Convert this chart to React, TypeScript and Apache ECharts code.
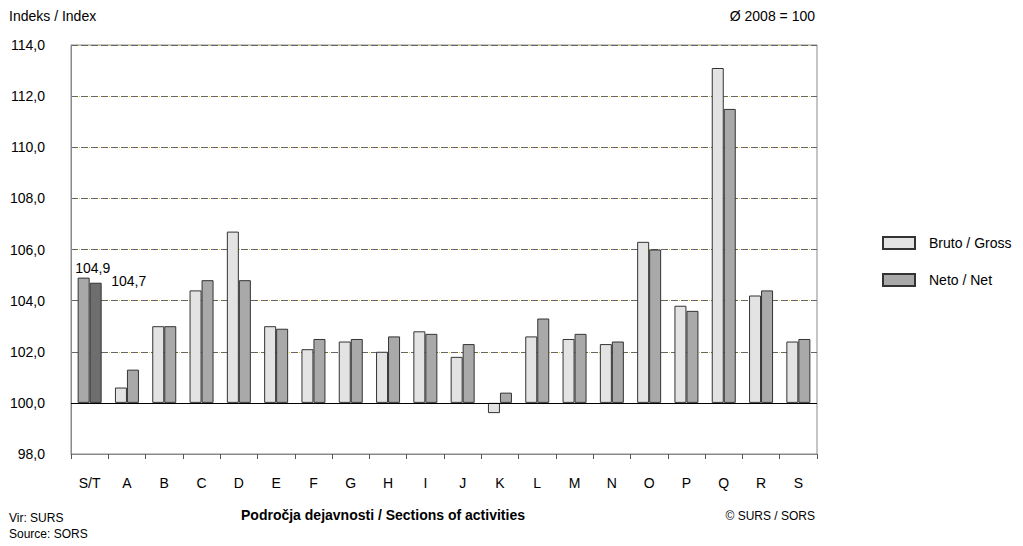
import React, { useEffect, useRef } from "react";
import * as echarts from "echarts";

const categories = ["S/T", "A", "B", "C", "D", "E", "F", "G", "H", "I", "J", "K", "L", "M", "N", "O", "P", "Q", "R", "S"];
const gross = [104.9, 100.6, 103.0, 104.4, 106.7, 103.0, 102.1, 102.4, 102.0, 102.8, 101.8, 99.6, 102.6, 102.5, 102.3, 106.3, 103.8, 113.1, 104.2, 102.4];
const net = [104.7, 101.3, 103.0, 104.8, 104.8, 102.9, 102.5, 102.5, 102.6, 102.7, 102.3, 100.4, 103.3, 102.7, 102.4, 106.0, 103.6, 111.5, 104.4, 102.5];
const BASE = 100;
const Y_MIN = 98;
const Y_MAX = 114;
const Y_STEP = 2;
const seriesNames = ["Bruto / Gross", "Neto / Net"];

const FONT = "Liberation Sans, Arial, sans-serif";
const fmt = (v: number) => v.toFixed(1).replace(".", ",");

export default function App() {
  const ref = useRef<HTMLDivElement>(null);
  useEffect(() => {
    if (!ref.current) return;
    const chart = echarts.init(ref.current, undefined, { renderer: "svg" });
    const mk = (arr: number[], hiColor: string, labelOffset: number[]) =>
      arr.map((v, i) => {
        const item: any = { value: +(v - BASE).toFixed(2) };
        if (i === 0) {
          item.itemStyle = { color: hiColor };
          item.label = {
            show: true,
            position: "top",
            offset: labelOffset,
            formatter: () => fmt(v),
            color: "#000",
            fontSize: 14,
            fontFamily: FONT,
          };
        }
        return item;
      });
    const yAxisCommon = {
      type: "value",
      min: Y_MIN - BASE,
      max: Y_MAX - BASE,
      interval: Y_STEP,
    };
    chart.setOption({
      animation: false,
      textStyle: { fontFamily: FONT },
      grid: { left: 71, top: 45, right: 206, bottom: 92, show: true, borderColor: "#8a8a8a", borderWidth: 1 },
      legend: {
        orient: "vertical",
        left: 877,
        top: 231,
        itemWidth: 32,
        itemHeight: 12,
        itemGap: 23,
        icon: "rect",
        textStyle: { fontSize: 14, color: "#000", fontFamily: FONT, padding: [0, 0, 0, 9] },
        data: seriesNames,
      },
      xAxis: {
        type: "category",
        data: categories,
        axisLine: { onZero: false, lineStyle: { color: "#8a8a8a" } },
        axisTick: { show: true, length: 5, lineStyle: { color: "#555" } },
        axisLabel: { color: "#000", fontSize: 14, margin: 22, fontFamily: FONT },
      },
      yAxis: [
        {
          ...yAxisCommon,
          axisLine: { show: true, lineStyle: { color: "#8a8a8a" } },
          axisTick: { show: false },
          axisLabel: { color: "#000", fontSize: 14, margin: 26, fontFamily: FONT, formatter: (v: number) => fmt(v + BASE) },
          splitLine: { show: true, lineStyle: { color: "#666666", type: [7, 3], width: 1 } },
        },
        {
          ...yAxisCommon,
          position: "left",
          axisLine: { show: false },
          axisTick: { show: false },
          axisLabel: { show: false },
          splitLine: { show: true, lineStyle: { color: "#e8c800", type: [1, 9], dashOffset: -8, width: 1 } },
        },
      ],
      series: [
        {
          name: seriesNames[0],
          type: "bar",
          barWidth: 12,
          barGap: "0%",
          itemStyle: { color: "#e3e3e3", borderColor: "#333333", borderWidth: 1 },
          data: mk(gross, "#a8a8a8", [9, 2]),
          markLine: {
            silent: true,
            symbol: "none",
            label: { show: false },
            lineStyle: { color: "#000", type: "solid", width: 1 },
            data: [{ yAxis: 0 }],
          },
          z: 3,
        },
        {
          name: seriesNames[1],
          type: "bar",
          barWidth: 12,
          barGap: "0%",
          itemStyle: { color: "#a9a9a9", borderColor: "#333333", borderWidth: 1 },
          data: mk(net, "#6e6e6e", [33, 10]),
          z: 3,
        },
      ],
      graphic: [
        { type: "text", left: 9, top: 9, style: { text: "Indeks / Index", fontSize: 14, fill: "#000", fontFamily: FONT } },
        { type: "text", right: 208, top: 9, style: { text: "Ø 2008 = 100", fontSize: 14, fill: "#000", fontFamily: FONT } },
        { type: "text", left: 241, top: 508, style: { text: "Področja dejavnosti / Sections of activities", fontSize: 14, fontWeight: "bold", fill: "#000", fontFamily: FONT } },
        { type: "text", right: 208, top: 510, style: { text: "© SURS / SORS", fontSize: 12, fill: "#000", fontFamily: FONT } },
        { type: "text", left: 9, top: 512, style: { text: "Vir: SURS", fontSize: 12, fill: "#000", fontFamily: FONT } },
        { type: "text", left: 9, top: 528, style: { text: "Source: SORS", fontSize: 12, fill: "#000", fontFamily: FONT } },
      ],
    });
    return () => chart.dispose();
  }, []);
  return <div ref={ref} style={{ width: 1023, height: 546, position: "absolute", left: 0, top: 0 }} />;
}
